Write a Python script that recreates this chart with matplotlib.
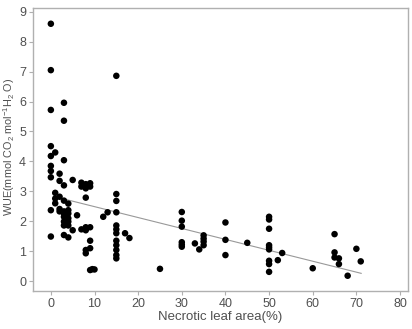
import matplotlib
matplotlib.use("Agg")
import matplotlib.pyplot as plt

necrotic = [0, 0, 0, 3, 3, 15, 0, 0, 1, 3, 0, 0, 0, 2, 2, 3, 5, 7, 7, 8, 9, 9, 8, 8,
            1, 1, 2, 1, 0, 2, 3, 4, 4, 3, 2, 3, 4, 3, 4, 6, 3, 4, 3, 4, 5, 3, 4, 0,
            7, 8, 9, 8, 8, 8, 9, 9, 9, 10, 9.5, 12, 13,
            15, 15, 15, 15, 15, 15, 15, 15, 15, 15, 15, 17, 18,
            25, 30, 30, 30, 30, 30, 30, 33, 34, 35, 35, 35, 35, 40, 40, 40, 45,
            50, 50, 50, 50, 50, 50, 50, 50, 50, 52, 53, 60, 65, 65, 65, 66, 66, 68, 70, 71]
wue = [8.6, 7.05, 5.72, 5.96, 5.36, 6.86, 4.51, 4.18, 4.3, 4.04, 3.85, 3.68, 3.47, 3.59, 3.35, 3.2, 3.38, 3.29, 3.16, 3.24, 3.27, 3.16, 3.1, 2.79,
       2.95, 2.76, 2.82, 2.6, 2.37, 2.41, 2.69, 2.59, 2.37, 2.33, 2.33, 2.26, 2.26, 2.15, 2.1, 2.2, 1.99, 1.99, 1.86, 1.86, 1.7, 1.54, 1.46, 1.49,
       1.73, 1.7, 1.8, 1.8, 1.04, 0.93, 1.1, 1.35, 0.37, 0.39, 0.4, 2.15, 2.3,
       2.91, 2.68, 2.3, 1.86, 1.73, 1.6, 1.35, 1.2, 1.04, 0.87, 0.76, 1.6, 1.44,
       0.41, 2.31, 2.02, 1.82, 1.3, 1.22, 1.15, 1.26, 1.06, 1.53, 1.42, 1.32, 1.2, 1.96, 1.38, 0.87, 1.28,
       2.15, 2.06, 1.75, 1.2, 1.13, 1.06, 0.68, 0.57, 0.31, 0.7, 0.94, 0.43, 1.57, 0.96, 0.79, 0.76, 0.57, 0.18, 1.08, 0.66]

fit_x = [2.3, 71.1]
fit_y = [2.77, 0.26]

xticks = [0, 10, 20, 30, 40, 50, 60, 70, 80]
yticks = [0, 1, 2, 3, 4, 5, 6, 7, 8, 9]

plt.rcParams['font.family'] = ['Liberation Sans', 'DejaVu Sans']
plt.rcParams['mathtext.fontset'] = 'custom'
plt.rcParams['mathtext.rm'] = 'Liberation Sans'
plt.rcParams['mathtext.it'] = 'Liberation Sans'
fig = plt.figure(figsize=(4.12, 3.29), dpi=100)
ax = fig.add_axes([0.080, 0.1155, 0.910, 0.8605])

ax.plot(fit_x, fit_y, color='#999999', lw=0.8, zorder=1)
ax.scatter(necrotic, wue, s=22, color='black', edgecolors='none', zorder=2)

ax.set_xlim(-4.1, 81.8)
ax.set_ylim(-0.33, 9.13)
ax.set_xticks(xticks)
ax.set_yticks(yticks)
for s in ax.spines.values():
    s.set_color('#b0b0b0')
    s.set_linewidth(1.0)
ax.tick_params(axis='both', colors='#b0b0b0', labelcolor='#505050', labelsize=9, length=3, width=0.8, pad=2)
ax.set_xlabel('Necrotic leaf area(%)', color='#505050', fontsize=9.5, labelpad=1)
ax.set_ylabel('WUE(mmol CO$_2$ mol$^{-1}$H$_2$ O)', color='#505050', fontsize=7.8)
ax.yaxis.set_label_coords(-0.043, 0.51)

fig.savefig('out.png', dpi=100)
